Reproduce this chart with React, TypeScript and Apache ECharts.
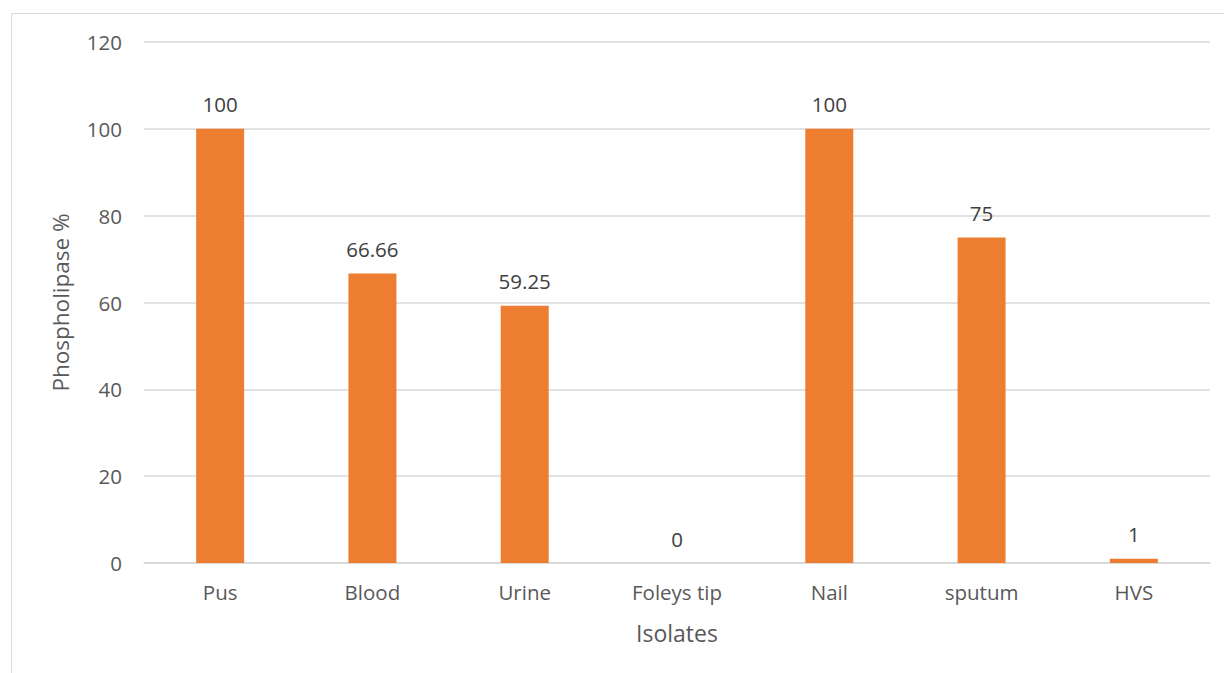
import React, { useEffect, useRef } from "react";
import * as echarts from "echarts";

const categories = ["Pus", "Blood", "Urine", "Foleys tip", "Nail", "sputum", "HVS"];
const values = [100, 66.66, 59.25, 0, 100, 75, 1];
const yTicks = [0, 20, 40, 60, 80, 100, 120];

export default function App() {
  const ref = useRef<HTMLDivElement>(null);
  useEffect(() => {
    const chart = echarts.init(ref.current!, null, { renderer: "svg" });
    const font = "'Open Sans', sans-serif";
    chart.setOption({
      animation: false,
      backgroundColor: "#ffffff",
      textStyle: { fontFamily: font },
      graphic: [
        {
          type: "rect",
          shape: { x: 11.5, y: 13.5, width: 1230, height: 680 },
          style: { fill: "none", stroke: "#d9d9d9", lineWidth: 1 },
          silent: true,
        },
      ],
      grid: { left: 144, right: 14, top: 42, bottom: 110, containLabel: false },
      xAxis: {
        type: "category",
        data: categories,
        axisLine: { lineStyle: { color: "#d9d9d9", width: 1.5 } },
        axisTick: { show: false },
        axisLabel: { color: "#595959", fontSize: 20.5, margin: 18, fontFamily: font },
        name: "Isolates",
        nameLocation: "middle",
        nameGap: 58,
        nameTextStyle: { color: "#595959", fontSize: 23, fontFamily: font },
      },
      yAxis: {
        type: "value",
        min: yTicks[0],
        max: yTicks[yTicks.length - 1],
        interval: 20,
        axisLine: { show: false },
        axisTick: { show: false },
        splitLine: { lineStyle: { color: "#d9d9d9", width: 1.5 } },
        axisLabel: { color: "#595959", fontSize: 20.5, margin: 22, fontFamily: font },
        name: "Phospholipase %",
        nameLocation: "middle",
        nameGap: 72,
        nameRotate: 90,
        nameTextStyle: { color: "#595959", fontSize: 22.5, fontFamily: font },
      },
      series: [
        {
          type: "bar",
          data: values,
          barWidth: 48,
          itemStyle: { color: "#ED7D31" },
          label: {
            show: true,
            position: "top",
            distance: 14,
            color: "#404040",
            fontSize: 20.5,
            fontFamily: font,
          },
        },
      ],
    });
    return () => chart.dispose();
  }, []);
  return (
    <div
      ref={ref}
      style={{ position: "fixed", left: 0, top: 0, width: 1224, height: 673 }}
    />
  );
}
